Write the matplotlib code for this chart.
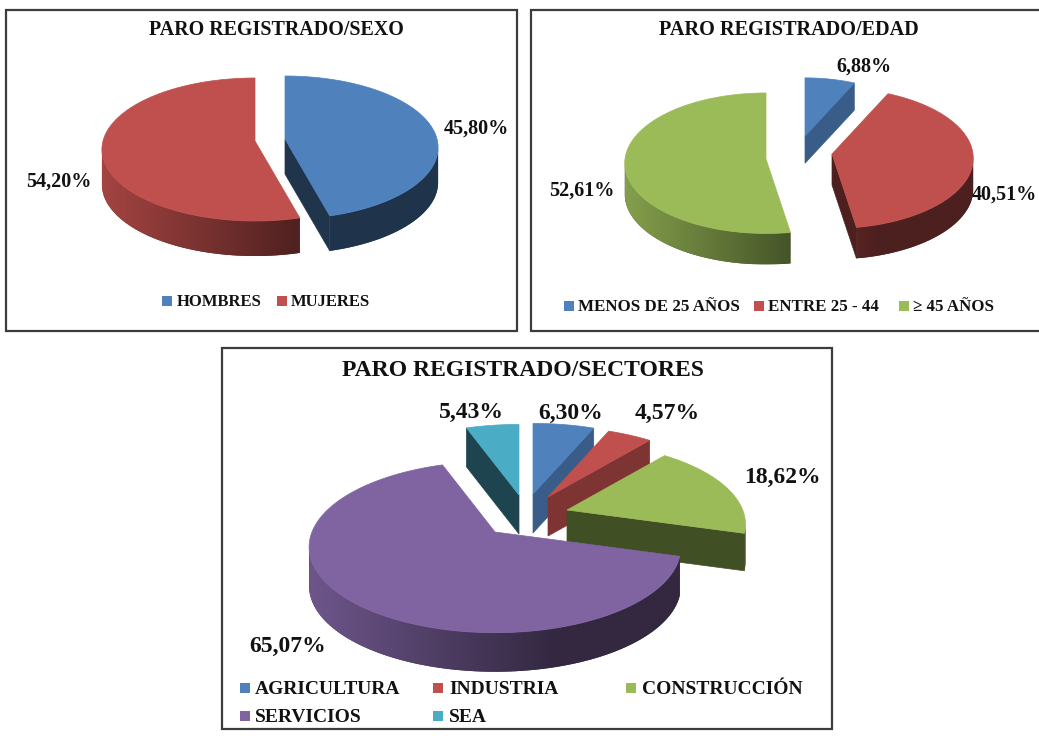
import numpy as np
import matplotlib
matplotlib.use("Agg")
import matplotlib.pyplot as plt
from matplotlib.colors import to_rgb
from matplotlib.patches import Polygon, Rectangle

plt.rcParams['font.family'] = ['Liberation Serif', 'DejaVu Serif']
plt.rcParams['font.weight'] = 'bold'

BLUE, RED, GREEN, PURPLE, TEAL = "#4f81bd", "#c0504d", "#9bbb59", "#8064a2", "#4bacc6"

# data
sexo_labels = ["HOMBRES", "MUJERES"]
sexo_values = [45.80, 54.20]
edad_labels = ["MENOS DE 25 AÑOS", "ENTRE 25 - 44", "≥ 45 AÑOS"]
edad_values = [6.88, 40.51, 52.61]
sector_labels = ["AGRICULTURA", "INDUSTRIA", "CONSTRUCCIÓN", "SERVICIOS", "SEA"]
sector_values = [6.30, 4.57, 18.62, 65.07, 5.43]


def shade(color, f):
    return tuple(c * f for c in to_rgb(color))


def wall_factor(u):
    return np.maximum(0.40, 0.85 - (u + 1) * 0.34)


def pie3d(ax, values, colors, center, rx, ry, k, depth, offsets, cut_shades, scales=None):
    """Exploded pie with a bit of perspective, clockwise from 12 o'clock."""
    total = sum(values)
    edges = np.concatenate([[0], np.cumsum(values)]) / total * 2 * np.pi
    scales = scales or [1] * len(values)
    z = 1.0
    # back slices first
    order = sorted(range(len(values)), key=lambda i: offsets[i][1])
    for i in order:
        ox, oy = center[0] + offsets[i][0], center[1] + offsets[i][1]
        s = scales[i]

        def proj(t, r=1.0):
            u, v = r * np.sin(t), r * np.cos(t)
            w = 1 + k * v
            return ox + s * rx * u / w, oy - s * ry * v / w

        t = np.linspace(edges[i], edges[i + 1], max(int(np.degrees(edges[i + 1] - edges[i])) * 2, 8))
        px, py = proj(t)
        d = depth * s

        # outer wall, only the part facing us, gradient left to right
        front = t[np.cos(t) < -k]
        if len(front) > 1:
            wx, wy = proj(front)
            pts = list(zip(wx, wy)) + list(zip(wx[::-1], wy[::-1] + d))
            z += 0.01
            base = Polygon(pts, facecolor=shade(colors[i], 0.45), edgecolor="none",
                           transform=ax.transData, zorder=z)
            ax.add_patch(base)
            xs = np.linspace(wx.min(), wx.max(), 200)
            grad = np.array([[shade(colors[i], wall_factor((x - ox) / (s * rx))) for x in xs]])
            z += 0.01
            im = ax.imshow(grad, extent=(xs[0], xs[-1], wy.max() + d, wy.min()), aspect="auto",
                           interpolation="bilinear", zorder=z)
            im.set_clip_path(base)

        # cut faces
        mid = (edges[i] + edges[i + 1]) / 2
        ix, iy = proj(mid, 0.5)
        for edge in (edges[i], edges[i + 1]):
            bx, by = proj(edge)
            if abs(bx - ox) < 1:
                continue
            yline = oy + (ix - ox) * (by - oy) / (bx - ox)
            if iy < yline:
                z += 0.01
                ax.add_patch(Polygon([(ox, oy), (bx, by), (bx, by + d), (ox, oy + d)],
                                     facecolor=shade(colors[i], cut_shades[i]),
                                     edgecolor=shade(colors[i], cut_shades[i]), lw=0.5, zorder=z))

        z += 0.01
        ax.add_patch(Polygon([(ox, oy)] + list(zip(px, py)), facecolor=colors[i],
                             edgecolor=colors[i], lw=0.5, zorder=z))


def legend(ax, labels, colors, xs, ys, tx, size):
    for lab, c, x, y, xt in zip(labels, colors, xs, ys, tx):
        ax.add_patch(Rectangle((x, y - 5), 10, 10, facecolor=c, edgecolor="none", zorder=2))
        ax.text(xt, y + 1, lab, fontsize=size, va="center", ha="left", color="#111111")


fig = plt.figure(figsize=(10.39, 7.51), dpi=100)
ax = fig.add_axes([0, 0, 1, 1])
ax.set_xlim(0, 1039)
ax.set_ylim(751, 0)
ax.set_autoscale_on(False)
ax.axis("off")

# frames
for x0, y0, x1, y1 in [(6, 10, 517, 331), (531, 10, 1045, 331), (222, 348, 832, 729)]:
    ax.add_patch(Rectangle((x0, y0), x1 - x0, y1 - y0, facecolor="white", edgecolor="#3c3c3c", lw=1.6, zorder=0.5))

# sexo
pie3d(ax, sexo_values, [BLUE, RED], (255, 141), 152, 70.5, 0.119, 35,
      [(30, -2), (0, 0)], [0.40, 0.40])
ax.text(276, 30, "PARO REGISTRADO/SEXO", fontsize=14.4, ha="center", va="center", color="#111111")
ax.text(476, 129, "45,80%", fontsize=14.5, ha="center", va="center", color="#111111")
ax.text(59, 182, "54,20%", fontsize=14.5, ha="center", va="center", color="#111111")
legend(ax, sexo_labels, [BLUE, RED], [162, 277], [301, 301], [177, 291], 12)

# edad
pie3d(ax, edad_values, [BLUE, RED, GREEN], (766, 159), 141, 70, 0.06, 31,
      [(39, -23), (66, -5), (0, 0)], [0.72, 0.40, 0.40], scales=[0.88, 1, 1])
ax.text(789, 30, "PARO REGISTRADO/EDAD", fontsize=14.6, ha="center", va="center", color="#111111")
ax.text(864, 67, "6,88%", fontsize=14.5, ha="center", va="center", color="#111111")
ax.text(1004, 195, "40,51%", fontsize=14.5, ha="center", va="center", color="#111111")
ax.text(582, 191, "52,61%", fontsize=14.5, ha="center", va="center", color="#111111")
legend(ax, edad_labels, [BLUE, RED, GREEN], [564, 754, 899], [306, 306, 306], [578, 768, 913], 12.2)

# sectores
pie3d(ax, sector_values, [BLUE, RED, GREEN, PURPLE, TEAL], (495, 532), 183, 83, 0.176, 39,
      [(38, -38), (53, -35), (72, -22), (0, 0), (24, -37)], [0.72, 0.65, 0.42, 0.40, 0.40],
      scales=[1, 1, 0.96, 1, 1])
ax.text(523, 371, "PARO REGISTRADO/SECTORES", fontsize=17, ha="center", va="center", color="#111111")
ax.text(471, 412, "5,43%", fontsize=17, ha="center", va="center", color="#111111")
ax.text(571, 413, "6,30%", fontsize=17, ha="center", va="center", color="#111111")
ax.text(667, 413, "4,57%", fontsize=17, ha="center", va="center", color="#111111")
ax.text(782, 477, "18,62%", fontsize=17, ha="center", va="center", color="#111111")
ax.text(288, 646, "65,07%", fontsize=17, ha="center", va="center", color="#111111")
legend(ax, sector_labels, [BLUE, RED, GREEN, PURPLE, TEAL],
       [240, 433, 626, 240, 433], [688, 688, 688, 716, 716], [255, 449, 642, 255, 449], 14)

ax.set_xlim(0, 1039)
ax.set_ylim(751, 0)
plt.savefig("out.png", dpi=100)
